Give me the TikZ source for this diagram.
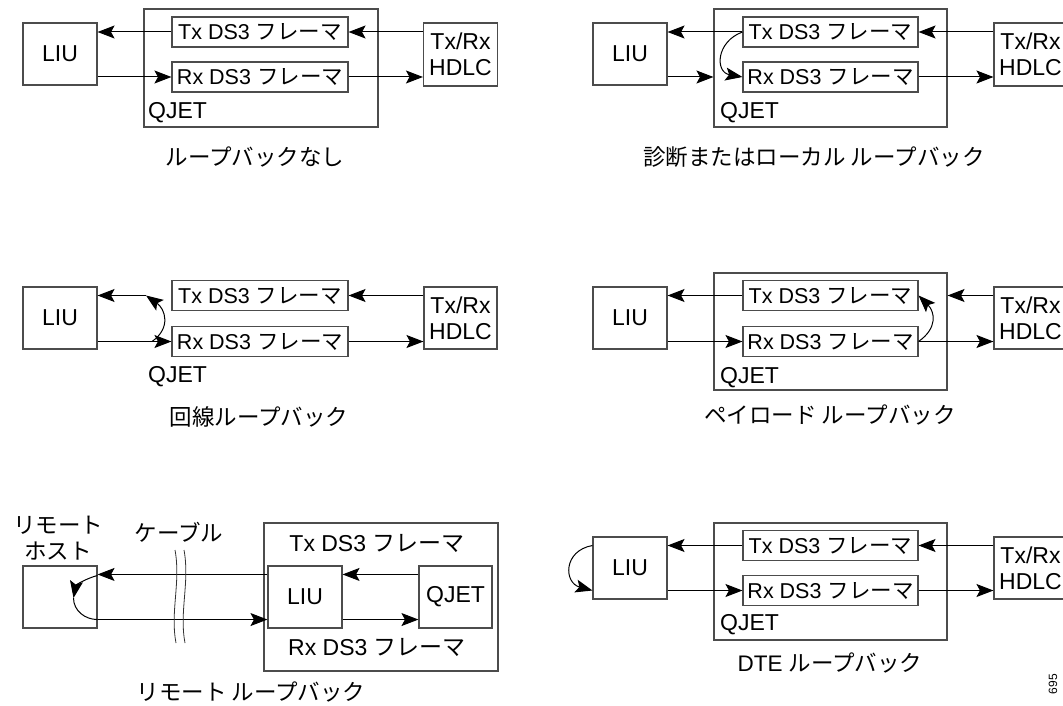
\documentclass[tikz,border=0pt]{standalone}
\usepackage{fontspec}
\setmainfont{Liberation Sans}
\newfontfamily\jpfont{Noto Sans CJK JP}
\usetikzlibrary{arrows.meta}
\newcommand{\jpt}[1]{{\jpfont #1}}
\newcommand{\fsF}{\fontsize{21.5}{24}\selectfont}
\newcommand{\fsB}{\fontsize{23}{26}\selectfont}
\newcommand{\fsC}{\fontsize{22.5}{26}\selectfont}
\begin{document}
\begin{tikzpicture}[x=1pt,y=-1pt,
  box/.style={draw=black!70, line width=1.1pt, inner sep=0pt, align=center, font=\fsB},
  frm/.style={box, minimum width=176pt, minimum height=30pt, font=\fsF},
  sq/.style={box, minimum width=74pt, minimum height=62pt},
  lbl/.style={inner sep=0pt, font=\fsB},
  captxt/.style={inner sep=0pt, font=\fsC},
  arr/.style={-{Stealth[length=17pt,width=13pt,inset=3.5pt]}, line width=1pt},
  ln/.style={line width=1pt}]
\clip (0,0) rectangle (1063,706);
\fill[white] (0,0) rectangle (1063,706);

% ---------- Panel 1: no loopback ----------
\node[box, minimum width=234pt, minimum height=118pt] (qj1) at (261,68) {};
\node[frm] (tx1) at (260,32) {Tx DS3 \jpt{フレーマ}};
\node[frm] (rx1) at (260,77) {Rx DS3 \jpt{フレーマ}};
\node[sq] (liu1) at (60,54) {LIU};
\node[sq, minimum height=63pt] (hd1) at (460.5,54.5) {Tx/Rx\\HDLC};
\node[lbl, anchor=west] (ql1) at (148,113) {QJET};
\node[captxt] (c1) at (255,157) {\jpt{ループバックなし}};
\draw[arr] (tx1.west) -- (liu1.east |- tx1.west);
\draw[arr] (hd1.west |- tx1.east) -- (tx1.east);
\draw[arr] (liu1.east |- rx1.west) -- (rx1.west);
\draw[arr] (rx1.east) -- (hd1.west |- rx1.east);

% ---------- Panel 2: diagnostic / local loopback ----------
\node[box, minimum width=233pt, minimum height=118pt] (qj2) at (830.5,68) {};
\node[frm, minimum width=175pt] (tx2) at (830.5,32) {Tx DS3 \jpt{フレーマ}};
\node[frm, minimum width=175pt] (rx2) at (830.5,77) {Rx DS3 \jpt{フレーマ}};
\node[sq] (liu2) at (630,54) {LIU};
\node[sq, minimum height=63pt, minimum width=73pt] (hd2) at (1030.5,54.5) {Tx/Rx\\HDLC};
\node[lbl, anchor=west] (ql2) at (720,113) {QJET};
\node[captxt] (c2) at (814,157) {\jpt{診断またはローカル ループバック}};
\draw[arr] (tx2.west) -- (liu2.east |- tx2.west);
\draw[arr] (hd2.west |- tx2.east) -- (tx2.east);
\draw[arr] (liu2.east |- rx2.west) -- (qj2.west |- rx2.west);
\draw[arr] (rx2.east) -- (hd2.west |- rx2.east);
\draw[arr] (tx2.west) to[out=200,in=170,looseness=1.6] (rx2.west);

% ---------- Panel 3: line loopback ----------
\node[frm] (tx3) at (260,295.5) {Tx DS3 \jpt{フレーマ}};
\node[frm] (rx3) at (260,341.5) {Rx DS3 \jpt{フレーマ}};
\node[sq] (liu3) at (60,318) {LIU};
\node[sq, minimum width=73pt] (hd3) at (460.5,318) {Tx/Rx\\HDLC};
\node[lbl, anchor=west] (ql3) at (148,377) {QJET};
\node[captxt] (c3) at (259,417) {\jpt{回線ループバック}};
\coordinate (lp3) at (146,295.5);
\coordinate (ls3) at (152,341.5);
\draw[arr] (lp3) -- (liu3.east |- lp3);
\draw[arr] (hd3.west |- tx3.east) -- (tx3.east);
\draw[arr] (liu3.east |- rx3.west) -- (rx3.west);
\draw[arr] (rx3.east) -- (hd3.west |- rx3.east);
\draw[arr] (ls3) to[out=35,in=-35,looseness=1.3] (lp3);

% ---------- Panel 4: payload loopback ----------
\node[box, minimum width=233pt, minimum height=117pt] (qj4) at (830.5,331.5) {};
\node[frm, minimum width=175pt] (tx4) at (830.5,295.5) {Tx DS3 \jpt{フレーマ}};
\node[frm, minimum width=175pt] (rx4) at (830.5,341.5) {Rx DS3 \jpt{フレーマ}};
\node[sq] (liu4) at (630,318) {LIU};
\node[sq, minimum width=73pt] (hd4) at (1030.5,318) {Tx/Rx\\HDLC};
\node[lbl, anchor=west] (ql4) at (720,378) {QJET};
\node[captxt] (c4) at (830,415) {\jpt{ペイロード ループバック}};
\draw[arr] (tx4.west) -- (liu4.east |- tx4.west);
\draw[arr] (hd4.west |- tx4.east) -- (qj4.east |- tx4.east);
\draw[arr] (liu4.east |- rx4.west) -- (rx4.west);
\draw[arr] (rx4.east) -- (hd4.west |- rx4.east);
\draw[arr] (rx4.east) to[out=35,in=-45,looseness=1.3] (tx4.east);

% ---------- Panel 5: remote loopback ----------
\node[lbl, align=center, font=\fsC] (rh) at (58,538.5) {\jpt{リモート}\\\jpt{ホスト}};
\node[sq] (host) at (60,597) {};
\node[captxt] (cb) at (179,532) {\jpt{ケーブル}};
\node[box, minimum width=234pt, minimum height=148pt] (card) at (381,597) {};
\node[lbl] (t5) at (377,543) {Tx DS3 \jpt{フレーマ}};
\node[lbl] (r5) at (377,647) {Rx DS3 \jpt{フレーマ}};
\node[sq] (liu5) at (305,597) {LIU};
\node[sq, minimum width=73pt] (qj5) at (455.5,597) {QJET};
\draw[arr] ([yshift=-9pt]liu5.north west) -- ([yshift=-9pt]host.north east);
\draw[arr] ([yshift=-9pt]qj5.north west) -- ([yshift=-9pt]liu5.north east);
\draw[arr] ([yshift=9pt]liu5.south east) -- ([yshift=9pt]qj5.south west);
\draw[arr] ([yshift=9pt]host.south east) -- ([yshift=9pt]liu5.south west);
\coordinate (hl) at (73.5,598);
\draw[arr] ([yshift=-10pt]host.north east) to[out=195,in=80] (hl);
\draw[ln] (hl) to[out=-90,in=180] ([yshift=9pt]host.south east);
\draw[line width=0.8pt, black!80] (175,550) .. controls (181,582) and (170,612) .. (176,643);
\draw[line width=0.8pt, black!80] (184,550) .. controls (190,582) and (179,612) .. (185,643);
\node[captxt] (c5) at (251,692) {\jpt{リモート ループバック}};

% ---------- Panel 6: DTE loopback ----------
\node[box, minimum width=233pt, minimum height=117pt] (qj6) at (830.5,581.5) {};
\node[frm, minimum width=175pt] (tx6) at (830.5,545.5) {Tx DS3 \jpt{フレーマ}};
\node[frm, minimum width=175pt] (rx6) at (830.5,590.5) {Rx DS3 \jpt{フレーマ}};
\node[sq] (liu6) at (630,568) {LIU};
\node[sq, minimum width=73pt] (hd6) at (1030.5,568) {Tx/Rx\\HDLC};
\node[lbl, anchor=west] (ql6) at (720,625) {QJET};
\node[captxt] (c6) at (830,663) {DTE \jpt{ループバック}};
\draw[arr] (tx6.west) -- (liu6.east |- tx6.west);
\draw[arr] (hd6.west |- tx6.east) -- (tx6.east);
\draw[arr] (liu6.east |- rx6.west) -- (rx6.west);
\draw[arr] (rx6.east) -- (hd6.west |- rx6.east);
\draw[arr] (liu6.west |- tx6.west) to[out=190,in=165,looseness=1.7] (liu6.west |- rx6.west);

\node[rotate=90, inner sep=0pt, font=\fontsize{12}{14}\selectfont] (fig) at (1053,684) {695};
\end{tikzpicture}
\end{document}
